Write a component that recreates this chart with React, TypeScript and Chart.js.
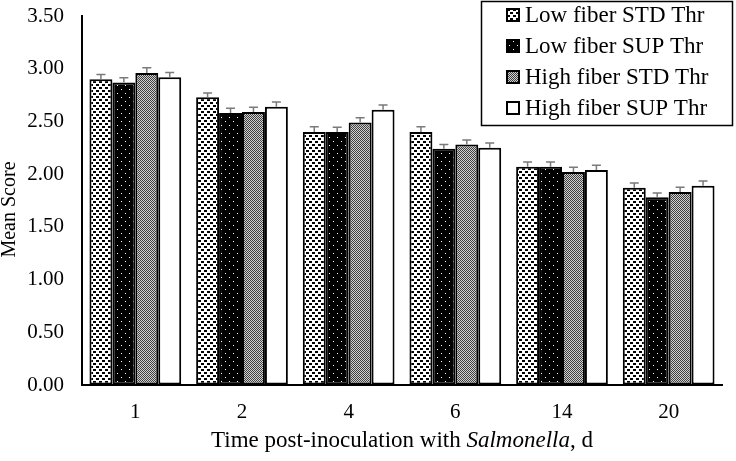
import React, { useEffect, useRef } from 'react';
import { Chart, registerables } from 'chart.js';
Chart.register(...registerables);

const categories = ['1', '2', '4', '6', '14', '20'];
const seriesNames = ['Low fiber STD Thr', 'Low fiber SUP Thr', 'High fiber STD Thr', 'High fiber SUP Thr'];
const lowFiberStd = [2.90, 2.73, 2.40, 2.40, 2.07, 1.87];
const lowFiberSup = [2.87, 2.58, 2.40, 2.24, 2.07, 1.78];
const highFiberStd = [2.96, 2.59, 2.49, 2.28, 2.02, 1.83];
const highFiberSup = [2.92, 2.64, 2.61, 2.25, 2.04, 1.89];
const lowFiberStdErr = [0.045, 0.04, 0.05, 0.05, 0.045, 0.045];
const lowFiberSupErr = [0.045, 0.045, 0.045, 0.04, 0.045, 0.04];
const highFiberStdErr = [0.05, 0.045, 0.045, 0.045, 0.045, 0.045];
const highFiberSupErr = [0.045, 0.045, 0.045, 0.045, 0.045, 0.045];
const yMin = 0;
const yMax = 3.5;
const yStep = 0.5;
const yTitle = 'Mean Score';

const FONT = '"Liberation Serif", "Times New Roman", serif';

function makePattern(kind: string): CanvasPattern | string {
  const c = document.createElement('canvas');
  const ctx = c.getContext('2d')!;
  if (kind === 'lowStd') {
    c.width = 6; c.height = 6;
    ctx.fillStyle = '#fff'; ctx.fillRect(0, 0, 6, 6);
    ctx.fillStyle = '#000';
    ctx.fillRect(0, 0, 3, 2);
    ctx.fillRect(3, 3, 3, 2);
  } else if (kind === 'lowSup') {
    c.width = 8; c.height = 8;
    ctx.fillStyle = '#000'; ctx.fillRect(0, 0, 8, 8);
    ctx.fillStyle = '#fff';
    ctx.fillRect(1, 1, 1, 1);
    ctx.fillRect(5, 5, 1, 1);
  } else if (kind === 'highStd') {
    c.width = 2; c.height = 2;
    ctx.fillStyle = '#d0d0d0'; ctx.fillRect(0, 0, 2, 2);
    ctx.fillStyle = '#404040';
    ctx.fillRect(0, 0, 1, 1);
    ctx.fillRect(1, 1, 1, 1);
  } else {
    return '#ffffff';
  }
  const p = document.createElement('canvas').getContext('2d')!.createPattern(c, 'repeat');
  return p || '#fff';
}

const errorBarPlugin = {
  id: 'errorBars',
  afterDatasetsDraw(chart: any) {
    const ctx = chart.ctx;
    const yScale = chart.scales.y;
    ctx.save();
    ctx.strokeStyle = '#7a7a7a';
    ctx.lineWidth = 1.5;
    chart.data.datasets.forEach((ds: any, i: number) => {
      const meta = chart.getDatasetMeta(i);
      meta.data.forEach((el: any, j: number) => {
        const v = ds.data[j];
        const e = ds.errors[j];
        const yTop = yScale.getPixelForValue(v);
        const yErr = yScale.getPixelForValue(v + e);
        ctx.beginPath();
        ctx.moveTo(el.x, yTop);
        ctx.lineTo(el.x, yErr);
        ctx.moveTo(el.x - 4.5, yErr);
        ctx.lineTo(el.x + 4.5, yErr);
        ctx.stroke();
      });
    });
    ctx.restore();
  },
};

const legendPlugin = {
  id: 'boxLegend',
  afterDraw(chart: any) {
    const ctx = chart.ctx;
    const left = 481.5;
    const top = 1.5;
    const w = 251;
    const h = 124;
    ctx.save();
    ctx.fillStyle = '#fff';
    ctx.fillRect(left, top, w, h);
    ctx.strokeStyle = '#000';
    ctx.lineWidth = 1.5;
    ctx.strokeRect(left, top, w, h);
    ctx.font = `23px ${FONT}`;
    ctx.textBaseline = 'middle';
    ctx.textAlign = 'left';
    chart.data.datasets.forEach((ds: any, i: number) => {
      const cy = 15 + i * 31;
      const sx = 507;
      ctx.fillStyle = ds.backgroundColor;
      ctx.fillRect(sx, cy - 6, 12, 12);
      ctx.strokeStyle = '#000';
      ctx.lineWidth = 2;
      ctx.strokeRect(sx, cy - 6, 12, 12);
      ctx.fillStyle = '#000';
      ctx.fillText(ds.label, 525, cy + 1);
    });
    ctx.restore();
  },
};

const titlesPlugin = {
  id: 'axisTitles',
  afterDraw(chart: any) {
    const ctx = chart.ctx;
    const area = chart.chartArea;
    const parts = [
      { t: 'Time post-inoculation with ', f: `23px ${FONT}` },
      { t: 'Salmonella', f: `italic 23px ${FONT}` },
      { t: ', d', f: `23px ${FONT}` },
    ];
    ctx.save();
    let total = 0;
    parts.forEach((p) => { ctx.font = p.f; total += ctx.measureText(p.t).width; });
    let x = (area.left + area.right) / 2 - total / 2;
    const y = 441;
    ctx.fillStyle = '#000';
    ctx.textBaseline = 'middle';
    ctx.textAlign = 'left';
    parts.forEach((p) => { ctx.font = p.f; ctx.fillText(p.t, x, y); x += ctx.measureText(p.t).width; });
    // y-axis title
    ctx.translate(10, (area.top + area.bottom) / 2 + 9);
    ctx.rotate(-Math.PI / 2);
    ctx.font = `20px ${FONT}`;
    ctx.textAlign = 'center';
    ctx.textBaseline = 'middle';
    ctx.fillText(yTitle, 0, 0);
    ctx.restore();
  },
};

export default function App() {
  const ref = useRef<HTMLCanvasElement>(null);
  useEffect(() => {
    if (!ref.current) return;
    const mk = (label: string, data: number[], errors: number[], kind: string) => ({
      label,
      data,
      errors,
      backgroundColor: makePattern(kind),
      borderColor: '#000',
      borderWidth: 2,
      borderSkipped: false,
      categoryPercentage: 0.86,
      barPercentage: 1.0,
    });
    const chart = new Chart(ref.current, {
      type: 'bar',
      data: {
        labels: categories,
        datasets: [
          mk(seriesNames[0], lowFiberStd, lowFiberStdErr, 'lowStd'),
          mk(seriesNames[1], lowFiberSup, lowFiberSupErr, 'lowSup'),
          mk(seriesNames[2], highFiberStd, highFiberStdErr, 'highStd'),
          mk(seriesNames[3], highFiberSup, highFiberSupErr, 'highSup'),
        ] as any,
      },
      options: {
        animation: false,
        responsive: false,
        layout: { padding: { top: 16, right: 14, left: 0, bottom: 0 } },
        plugins: { legend: { display: false }, tooltip: { enabled: false } },
        scales: {
          x: {
            grid: { display: false, drawTicks: false },
            border: { display: true, color: '#000', width: 2 },
            ticks: { color: '#000', font: { family: FONT, size: 21 }, padding: 15 },
            afterFit: (s: any) => { s.height = 76; },
          },
          y: {
            min: yMin,
            max: yMax,
            grid: {
              display: true,
              drawOnChartArea: false,
              drawTicks: true,
              tickLength: 18,
              color: 'rgba(0,0,0,0)',
            },
            border: { display: true, color: '#000', width: 2 },
            ticks: {
              stepSize: yStep,
              color: '#000',
              font: { family: FONT, size: 21 },
              padding: 0,
              callback: (v: any) => Number(v).toFixed(2),
            },
            title: { display: false },
            afterFit: (s: any) => { s.width = 82; },
          },
        },
      },
      plugins: [errorBarPlugin, legendPlugin, titlesPlugin],
    });
    return () => chart.destroy();
  }, []);
  return (
    <div style={{ position: 'absolute', left: 0, top: 0, width: 736, height: 461, background: '#fff' }}>
      <canvas ref={ref} width={736} height={461} />
    </div>
  );
}
